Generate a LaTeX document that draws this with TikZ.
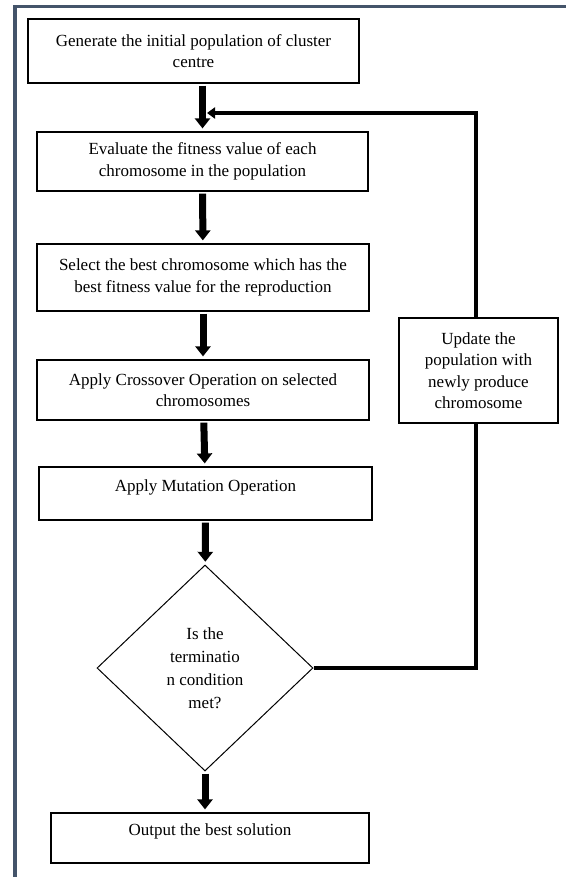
\documentclass[tikz,border=0pt]{standalone}
\usepackage{fontspec}
\setmainfont{Liberation Serif}
\usetikzlibrary{arrows.meta,shapes.geometric}
\definecolor{framecol}{HTML}{44546A}
\begin{document}
\begin{tikzpicture}[x=1pt,y=-1pt,
  procbox/.style={draw,line width=1.2pt,fill=white,align=center,inner sep=0pt,font=\fontsize{17}{21.5}\selectfont},
  decision/.style={diamond,draw,line width=1pt,fill=white,align=center,inner sep=0pt,font=\fontsize{17}{23}\selectfont},
  bigarrow/.style={line width=7pt,-{Triangle[length=10pt 0 1,width=15pt 0 1]},shorten <=2pt,shorten >=3pt},
  backline/.style={line width=4pt,line join=miter}]
\useasboundingbox (0,0) rectangle (566,877);
\fill[framecol] (13,5) rectangle (566,8);
\fill[framecol] (13,5) rectangle (17,877);
\node[procbox,minimum width=331pt,minimum height=64pt] (gen) at (193.5,51) {Generate the initial population of cluster\\centre};
\node[procbox,minimum width=331pt,minimum height=59pt] (eval) at (202.5,161.5) {Evaluate the fitness value of each\\chromosome in the population};
\node[procbox,minimum width=332pt,minimum height=67pt] (sel) at (203,277.5) {Select the best chromosome which has the\\best fitness value for the reproduction};
\node[procbox,minimum width=332pt,minimum height=60pt] (cross) at (203,390) {Apply Crossover Operation on selected\\chromosomes};
\node[procbox,minimum width=333pt,minimum height=53pt,text depth=15pt] (mut) at (205.5,493.5) {Apply Mutation Operation};
\node[decision,minimum width=216pt,minimum height=206pt] (term) at (205,668) {Is the\\terminatio\\n condition\\met?};
\node[procbox,minimum width=318pt,minimum height=50pt,text depth=16pt] (out) at (210,838) {Output the best solution};
\draw[bigarrow] (gen.south -| eval.north) -- (eval.north);
\draw[bigarrow] (eval) -- (sel);
\draw[bigarrow] (sel) -- (cross);
\draw[bigarrow] (cross) -- (mut);
\draw[bigarrow] (mut) -- (term);
\draw[bigarrow] (term.south) -- (term.south |- out.north);
\coordinate (c1) at (476,668);
\coordinate (c2) at (476,113);
\coordinate (join) at (207,113);
\draw[backline,-{Triangle[length=8pt 0 1,width=11pt 0 1]}] (term.east) -- (c1) -- (c2) -- (join);
\node[procbox,minimum width=159pt,minimum height=105pt] (upd) at (478.5,370.5) {Update the\\population with\\newly produce\\chromosome};
\end{tikzpicture}
\end{document}
